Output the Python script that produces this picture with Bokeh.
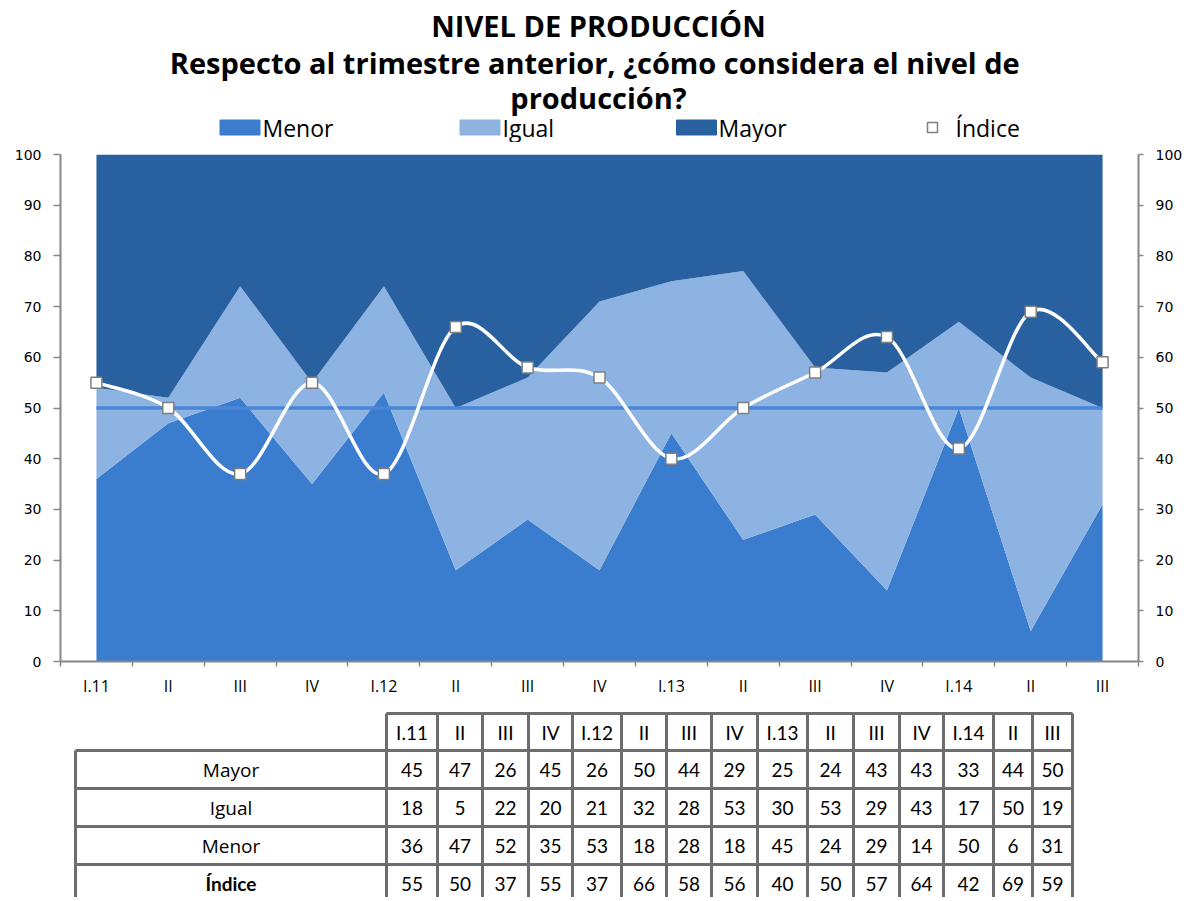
from bokeh.plotting import figure
from bokeh.models import Range1d, LinearAxis, FixedTicker, CustomJSTickFormatter
from bokeh.layouts import column
from bokeh.embed import file_html
from bokeh.resources import INLINE
from bokeh.core.properties import value

# ---------------- data ----------------
categorias = ["I.11", "II", "III", "IV", "I.12", "II", "III", "IV",
              "I.13", "II", "III", "IV", "I.14", "II", "III"]
mayor = [45, 47, 26, 45, 26, 50, 44, 29, 25, 24, 43, 43, 33, 44, 50]
igual = [18, 5, 22, 20, 21, 32, 28, 53, 30, 53, 29, 43, 17, 50, 19]
menor = [36, 47, 52, 35, 53, 18, 28, 18, 45, 24, 29, 14, 50, 6, 31]
indice = [55, 50, 37, 55, 37, 66, 58, 56, 40, 50, 57, 64, 42, 69, 59]
referencia = 50
total = 100
y_ticks = [0, 10, 20, 30, 40, 50, 60, 70, 80, 90, 100]
titulo = ["NIVEL DE PRODUCCIÓN",
          "Respecto al trimestre anterior, ¿cómo considera  el nivel de",
          "producción?"]
filas = ["Mayor", "Igual", "Menor", "Índice"]

# ---------------- style ----------------
C_MENOR = "#3a7dce"
C_IGUAL = "#8db3e2"
C_MAYOR = "#2860a0"
C_REF = "#4a86d6"
C_AXIS = "#868686"
C_BORDER = "#6d6d6d"
FONT = "Open Sans"
FONT_NUM = "Lato"
W = 1187
BL, BR = 60, 49            # left/right borders -> frame spans x 60..1138
H_TOP, H_CHART, H_TABLE = 142, 563, 192

n = len(categorias)
xs = [i + 0.5 for i in range(n)]
igual_top = [m + g for m, g in zip(menor, igual)]


def blank(height, y0):
    f = figure(width=W, height=height, x_range=Range1d(BL, W - BR),
               y_range=Range1d(y0 + height, y0), output_backend="svg",
               toolbar_location=None, min_border_left=BL, min_border_right=BR,
               min_border_top=0, min_border_bottom=0,
               x_axis_location=None, y_axis_location=None)
    f.outline_line_color = None
    f.grid.visible = False
    return f


# ---------------- title + legend ----------------
top = blank(H_TOP, 0)
top.text(x=[598] * 3, y=[25, 62, 97], text=titulo,
         text_font=value(FONT), text_font_style="bold", text_font_size="29px",
         text_align="center", text_baseline="middle", text_color="black")
top.rect(x=[239.5, 479.5, 696], y=[127] * 3, width=40, height=15,
         color=[C_MENOR, C_IGUAL, C_MAYOR])
top.scatter(x=[932], y=[127], marker="square", size=10, fill_color="white",
            line_color="#7f7f7f", line_width=1.5)
top.text(x=[262, 502, 718, 955], y=[127] * 4,
         text=["Menor", "Igual", "Mayor", "Índice"],
         text_font=value(FONT), text_font_size="23px", text_align="left",
         text_baseline="middle", text_color="black")

# ---------------- chart ----------------
p = figure(width=W, height=H_CHART, x_range=Range1d(0, n), y_range=Range1d(0, total),
           output_backend="svg", toolbar_location=None,
           min_border_left=BL, min_border_right=BR, min_border_top=12, min_border_bottom=44)
p.outline_line_color = None
p.grid.visible = False

p.varea(x=xs, y1=[0] * n, y2=menor, color=C_MENOR)
p.varea(x=xs, y1=menor, y2=igual_top, color=C_IGUAL)
p.varea(x=xs, y1=igual_top, y2=[total] * n, color=C_MAYOR)
p.line(x=xs, y=[referencia] * n, line_color=C_REF, line_width=3.5)

# smoothed index line (Catmull-Rom as cubic Bezier segments)
x0s, y0s, x1s, y1s, cx0, cy0, cx1, cy1 = [], [], [], [], [], [], [], []
for i in range(n - 1):
    a = max(i - 1, 0)
    d = min(i + 2, n - 1)
    x0s.append(xs[i]); y0s.append(indice[i])
    x1s.append(xs[i + 1]); y1s.append(indice[i + 1])
    cx0.append(xs[i] + (xs[i + 1] - xs[a]) / 6)
    cy0.append(indice[i] + (indice[i + 1] - indice[a]) / 6)
    cx1.append(xs[i + 1] - (xs[d] - xs[i]) / 6)
    cy1.append(indice[i + 1] - (indice[d] - indice[i]) / 6)
p.bezier(x0=x0s, y0=y0s, x1=x1s, y1=y1s, cx0=cx0, cy0=cy0, cx1=cx1, cy1=cy1,
         line_color="white", line_width=3.5)
p.scatter(x=xs, y=indice, marker="square", size=11, fill_color="white",
          line_color="#7f7f7f", line_width=1.5)

p.xaxis.ticker = FixedTicker(ticks=xs, minor_ticks=list(range(n + 1)))
p.xaxis.formatter = CustomJSTickFormatter(args=dict(labels=categorias),
                                          code="return labels[Math.floor(tick)];")
p.xaxis.major_tick_out = 0
p.xaxis.major_tick_in = 0
p.xaxis.minor_tick_out = 5
p.xaxis.minor_tick_in = 0
p.xaxis.minor_tick_line_color = C_AXIS
p.xaxis.minor_tick_line_width = 1.5
p.xaxis.major_label_standoff = 8
p.xaxis.major_label_text_font = FONT
p.xaxis.major_label_text_font_size = "16px"
p.xaxis.major_label_text_font_style = "normal"

right = LinearAxis()
p.add_layout(right, "right")
for ax in p.yaxis:
    ax.ticker = FixedTicker(ticks=y_ticks)
    ax.minor_tick_line_color = None
    ax.major_tick_in = 0
    ax.major_label_text_font = "DejaVu Sans"
    ax.major_label_text_font_size = "14px"
    ax.major_tick_line_color = C_AXIS
    ax.major_tick_line_width = 1.5
p.yaxis[0].major_tick_out = 7
p.yaxis[0].major_label_standoff = 12
right.major_tick_out = 5
right.major_label_standoff = 12
for ax in p.axis:
    ax.axis_line_color = C_AXIS
    ax.axis_line_width = 2
    ax.major_label_text_color = "black"

# ---------------- table ----------------
tb = blank(H_TABLE, H_TOP + H_CHART)
col_edges = [386, 437, 482, 528, 572, 621, 666, 711, 757, 807, 853, 899, 943, 993, 1032, 1072]
row_edges = [713, 750, 788, 826, 864, 902]
label_left = 75

sx0, sy0, sx1, sy1 = [], [], [], []
sx0.append(col_edges[0]); sy0.append(row_edges[0]); sx1.append(col_edges[-1]); sy1.append(row_edges[0])
for y in row_edges[1:]:
    sx0.append(label_left); sy0.append(y); sx1.append(col_edges[-1]); sy1.append(y)
sx0.append(label_left); sy0.append(row_edges[1]); sx1.append(label_left); sy1.append(row_edges[-1])
for x in col_edges:
    sx0.append(x); sy0.append(row_edges[0]); sx1.append(x); sy1.append(row_edges[-1])
tb.segment(x0=sx0, y0=sy0, x1=sx1, y1=sy1, line_color=C_BORDER, line_width=3)

ccx = [(col_edges[i] + col_edges[i + 1]) / 2 for i in range(n)]
rcy = [(row_edges[j] + row_edges[j + 1]) / 2 for j in range(5)]
tb.text(x=ccx, y=[rcy[0]] * n, text=categorias, text_font=value(FONT_NUM),
        text_font_size="19px", text_align="center", text_baseline="middle", text_color="black")
for j, serie in enumerate([mayor, igual, menor, indice]):
    tb.text(x=ccx, y=[rcy[j + 1]] * n, text=[str(v) for v in serie], text_font=value(FONT_NUM),
            text_font_size="19px", text_align="center", text_baseline="middle", text_color="black")
lx = (label_left + col_edges[0]) / 2
tb.text(x=[lx] * 3, y=rcy[1:4], text=filas[:3], text_font=value(FONT),
        text_font_size="19px", text_align="center", text_baseline="middle", text_color="black")
tb.text(x=[lx], y=[rcy[4]], text=[filas[3]], text_font=value(FONT_NUM), text_font_style="bold",
        text_font_size="19px", text_align="center", text_baseline="middle", text_color="black")

layout = column(top, p, tb, spacing=0)
open("out.html", "w").write(file_html(layout, INLINE))
